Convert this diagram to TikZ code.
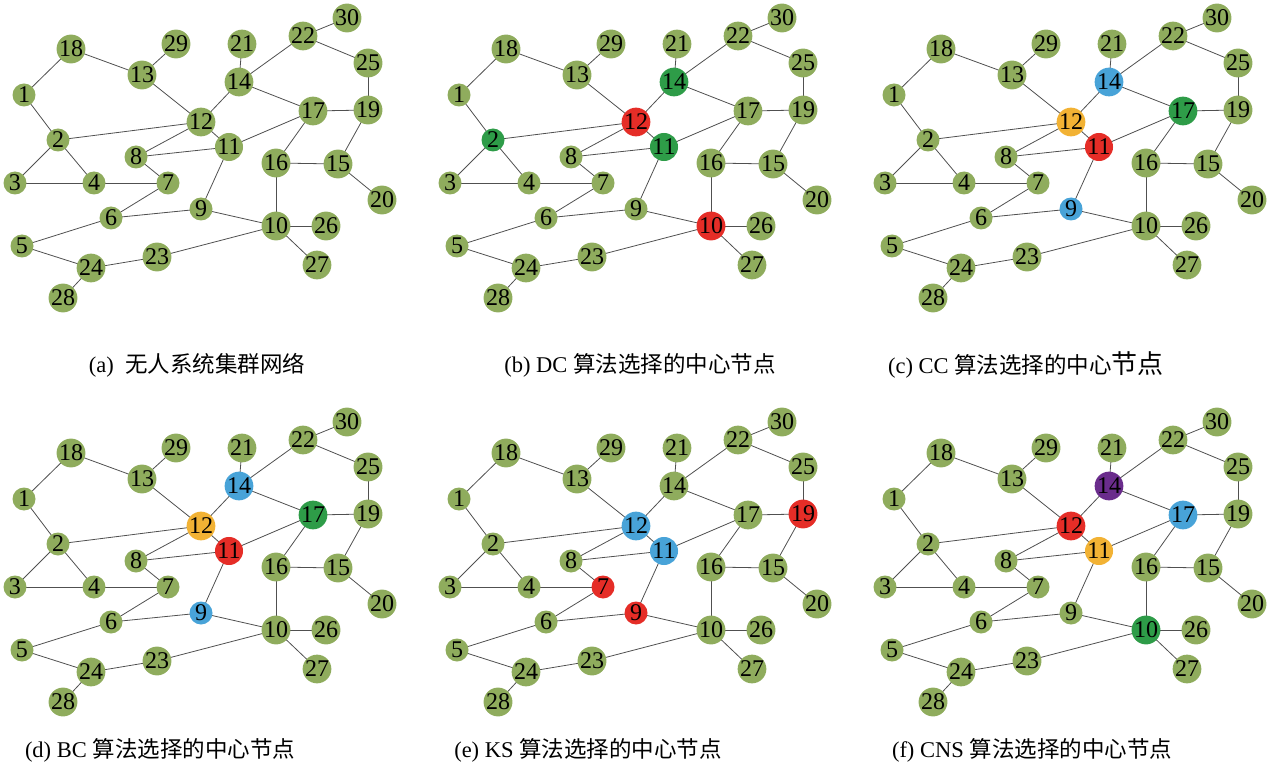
\documentclass[tikz,border=0pt]{standalone}
\usepackage{fontspec}
\setmainfont{Liberation Serif}
\newfontfamily\cjk{Noto Sans CJK SC}
\usetikzlibrary{backgrounds}

\definecolor{ngreen}{RGB}{143,172,93}
\definecolor{cred}{RGB}{229,45,39}
\definecolor{cgreen}{RGB}{46,156,72}
\definecolor{cblue}{RGB}{72,163,216}
\definecolor{corange}{RGB}{242,178,52}
\definecolor{cpurple}{RGB}{106,44,140}
\definecolor{edgegray}{RGB}{80,80,80}

\tikzset{
  nd/.style={circle, fill=ngreen, draw=none, minimum size=23pt, inner sep=0pt,
             font=\fontsize{24}{24}\selectfont},
  edge/.style={draw=edgegray, line width=0.8pt},
  caption/.style={font=\fontsize{22.5}{22.5}\selectfont, anchor=center, inner sep=0pt}
}

% #1 name prefix, #2 x shift, #3 y shift, #4 list of node/colour pairs
\newcommand\drawpanel[4]{%
  \foreach \n/\c in {#4} {\expandafter\xdef\csname hc#1\n\endcsname{\c}}
  \begin{scope}[shift={(#2,#3)}]
    \foreach \n/\x/\y in {1/24/95, 2/58/140, 3/15/183, 4/94/183, 5/22/246,
        6/111/218, 7/168/183, 8/136/157, 9/201/209, 10/276/226,
        11/229/147, 12/201/122, 13/142/75, 14/239/82, 15/338/164,
        16/276/163, 17/313/111, 18/71/49, 19/368/110, 20/382/200,
        21/242/44, 22/303/36, 23/157/257, 24/91/268, 25/368/63,
        26/326/226, 27/317/265, 28/63/298, 29/176/44, 30/347/18} {
      \ifcsname hc#1\n\endcsname
        \edef\fc{\csname hc#1\n\endcsname}%
      \else
        \def\fc{ngreen}%
      \fi
      \node[nd, fill=\fc] (#1\n) at (\x,\y) {\n};
    }
  \end{scope}
  \begin{pgfonlayer}{background}
    \foreach \a/\b in {1/18, 1/2, 18/13, 13/29, 13/12, 21/14, 14/22, 22/30,
        22/25, 25/19, 14/12, 14/17, 17/19, 17/11, 17/16, 19/15, 12/2,
        12/8, 12/11, 11/8, 11/9, 2/3, 2/4, 3/4, 4/7, 8/7, 7/6, 6/5, 6/9,
        9/10, 16/15, 16/10, 15/20, 10/26, 10/27, 10/23, 23/24, 5/24, 24/28} {
      \draw[edge] (#1\a.center) -- (#1\b.center);
    }
  \end{pgfonlayer}
}

\begin{document}
\begin{tikzpicture}[x=1pt, y=-1pt]
  \useasboundingbox (0,0) rectangle (1269,767);

  \drawpanel{a}{0}{0}{0/ngreen}
  \drawpanel{b}{435}{0}{12/cred, 10/cred, 2/cgreen, 14/cgreen, 11/cgreen}
  \drawpanel{c}{870}{0}{14/cblue, 9/cblue, 12/corange, 11/cred, 17/cgreen}
  \drawpanel{d}{0}{404}{14/cblue, 9/cblue, 12/corange, 11/cred, 17/cgreen}
  \drawpanel{e}{435}{404}{12/cblue, 11/cblue, 7/cred, 9/cred, 19/cred}
  \drawpanel{f}{870}{404}{14/cpurple, 12/cred, 11/corange, 17/cblue, 10/cgreen}

  \node[caption] (capa) at (197,365) {(a)\ \ {\cjk 无人系统集群网络}};
  \node[caption] (capb) at (640,365) {(b) DC {\cjk 算法选择的中心节点}};
  \node[caption] (capc) at (1026,365) {(c) CC {\cjk 算法选择的中心{\fontsize{26}{26}\selectfont 节点}}};
  \node[caption] (capd) at (160,750) {(d) BC {\cjk 算法选择的中心节点}};
  \node[caption] (cape) at (588,750) {(e) KS {\cjk 算法选择的中心节点}};
  \node[caption] (capf) at (1032,750) {(f) CNS {\cjk 算法选择的中心节点}};
\end{tikzpicture}
\end{document}
